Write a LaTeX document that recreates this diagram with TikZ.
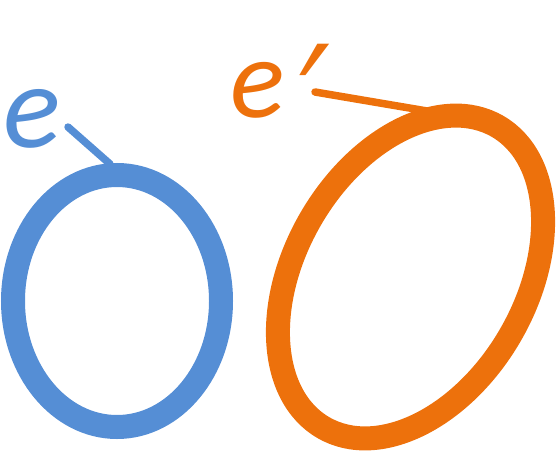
\documentclass[tikz,border=0pt]{standalone}
\usepackage{fontspec}
\setmainfont{Carlito}
\newfontfamily\primefont[FakeSlant=0.45]{Liberation Sans}
\definecolor{eblue}{HTML}{558ED5}
\definecolor{eorange}{HTML}{ED710C}
\begin{document}
\begin{tikzpicture}[x=1pt,y=1pt,
  ring/.style={line width=24pt},
  tick/.style={line width=7.5pt, line cap=round},
  lab/.style={font=\fontsize{120}{120}\selectfont\itshape, inner sep=0pt, anchor=base west}]
\useasboundingbox (0,0) rectangle (556,451);
% rings
\draw[ring, eblue] (117,150) ellipse [x radius=104, y radius=126];
\begin{scope}[shift={(410.5,174)}, rotate=60]
  \draw[ring, eorange] (0,0) ellipse [x radius=174, y radius=115.5];
\end{scope}
% labels
\node[lab, text=eblue] (le) at (3,304) {e};
\node[lab, text=eorange, font=\fontsize{114}{114}\selectfont\itshape] (lep) at (230,334)
  {e\kern-20pt\raisebox{-12pt}{\primefont\fontsize{124}{124}\selectfont ′}};
% connectors
\coordinate (bs) at (68,324);
\coordinate (be) at (110,287);
\coordinate (os) at (315,359);
\coordinate (oe) at (430,339.5);
\draw[tick, eblue] (bs) -- (be);
\draw[tick, eorange] (os) -- (oe);
\end{tikzpicture}
\end{document}
